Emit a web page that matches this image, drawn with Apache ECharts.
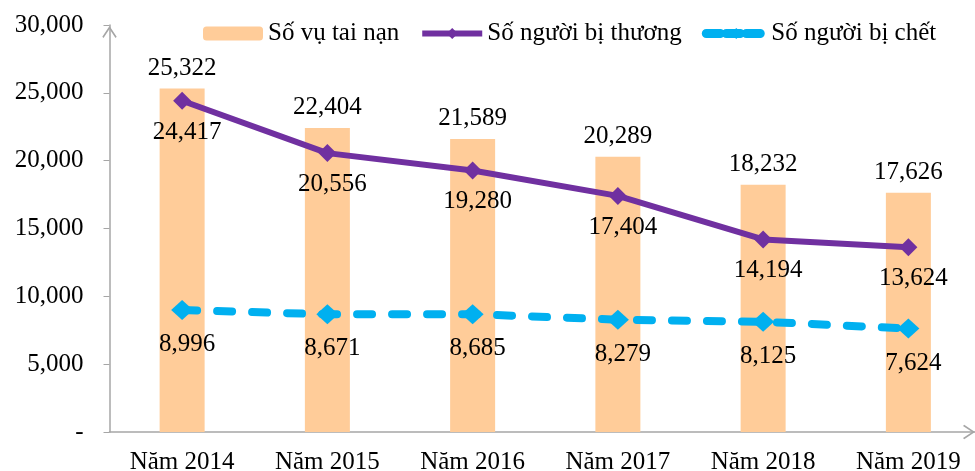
<!DOCTYPE html>
<html><head><meta charset="utf-8">
<script src="https://cdn.jsdelivr.net/npm/echarts@6/dist/echarts.min.js"></script>
<style>html,body{margin:0;padding:0;background:#fff}#c{width:975px;height:471px}</style>
</head><body><div id="c"></div>
<script>
var categories = ['Năm 2014','Năm 2015','Năm 2016','Năm 2017','Năm 2018','Năm 2019'];
var accidents = [25322, 22404, 21589, 20289, 18232, 17626];
var injured = [24417, 20556, 19280, 17404, 14194, 13624];
var deaths = [8996, 8671, 8685, 8279, 8125, 7624];
var seriesNames = ['Số vụ tai nạn', 'Số người bị thương', 'Số người bị chết'];
var yTicks = {0:'-', 5000:'5,000', 10000:'10,000', 15000:'15,000', 20000:'20,000', 25000:'25,000', 30000:'30,000'};

var FONT = '"Liberation Serif", "Times New Roman", serif';
var FS = 25;
function fmt(v){ return Number(v).toLocaleString('en-US'); }
var chevron = 'path://M0,0 L6,9 L5,10 L0,2.4 L-5,10 L-6,9 Z';
var chart = echarts.init(document.getElementById('c'));
chart.setOption({
  animation: false,
  textStyle: {fontFamily: FONT},
  legend: {
    top: 16, left: 198, itemWidth: 60, itemHeight: 14, itemGap: 20,
    textStyle: {fontFamily: FONT, fontSize: FS, color: '#000'},
    data: [
      {name: seriesNames[0]},
      {name: seriesNames[1], lineStyle: {width: 6}, itemStyle: {color: '#7030A0'}},
      {name: seriesNames[2], lineStyle: {width: 9, type: [14, 6], cap: 'round'}, itemStyle: {color: '#00B0F0'}}
    ]
  },
  grid: {left: 109.5, right: -6, top: 25, bottom: 39, containLabel: false, outerBoundsMode: 'none'},
  xAxis: {
    type: 'category', data: categories,
    axisLine: {lineStyle: {color: '#a6a6a6', width: 1.5}, symbol: ['none', chevron], symbolSize: [16, 12], symbolOffset: [0, -12]},
    axisTick: {show: false},
    axisLabel: {fontFamily: FONT, fontSize: FS, color: '#000', margin: 18}
  },
  yAxis: {
    type: 'value', min: 0, max: 30000, interval: 5000,
    splitLine: {show: false},
    axisLine: {show: true, lineStyle: {color: '#a6a6a6', width: 1.5}, symbol: ['none', chevron], symbolSize: [16, 12], symbolOffset: [0, -7]},
    axisTick: {show: true, inside: false, length: 6, lineStyle: {color: '#a6a6a6'}},
    axisLabel: {fontFamily: FONT, fontSize: FS, color: '#000', margin: 26,
      formatter: function(v){ return yTicks[v] !== undefined ? yTicks[v] : fmt(v); }}
  },
  series: [
    {
      name: seriesNames[0], type: 'bar', data: accidents, barWidth: 45,
      itemStyle: {color: '#FFCC99'},
      label: {show: true, position: 'top', distance: 8, fontFamily: FONT, fontSize: FS, color: '#000', formatter: function(p){return fmt(p.value);}}
    },
    {
      name: seriesNames[1], type: 'line', data: injured,
      lineStyle: {color: '#7030A0', width: 6},
      itemStyle: {color: '#7030A0'},
      symbol: 'diamond', symbolSize: 18,
      label: {show: true, position: 'bottom', distance: 10, offset: [5, 0], fontFamily: FONT, fontSize: FS, color: '#000', formatter: function(p){return fmt(p.value);}}
    },
    {
      name: seriesNames[2], type: 'line', data: deaths,
      lineStyle: {color: '#00B0F0', width: 8, type: [15, 20], cap: 'round'},
      itemStyle: {color: '#00B0F0'},
      symbol: 'diamond', symbolSize: [22, 20],
      label: {show: true, position: 'bottom', distance: 12, offset: [5, 0], fontFamily: FONT, fontSize: FS, color: '#000', formatter: function(p){return fmt(p.value);}}
    }
  ]
});
</script></body></html>
